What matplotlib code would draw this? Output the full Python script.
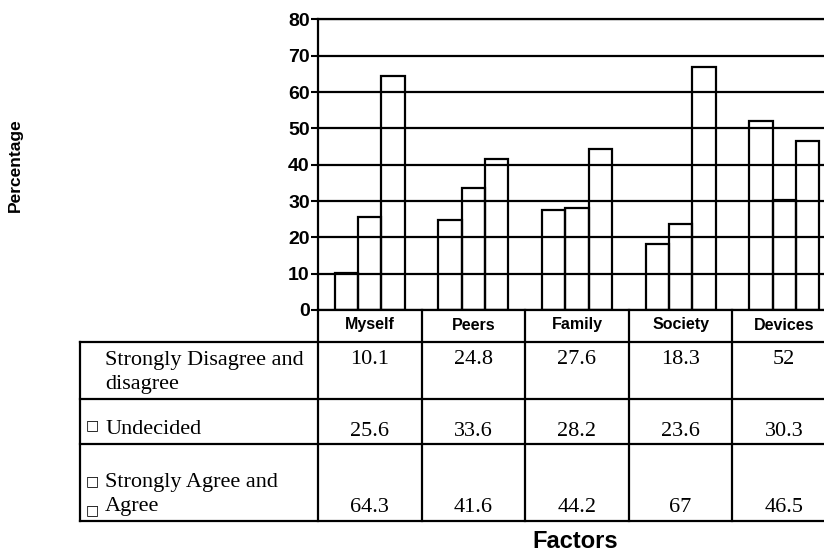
import matplotlib
matplotlib.use("Agg")
import matplotlib.pyplot as plt
from matplotlib import transforms
from matplotlib.lines import Line2D

categories = ['Myself', 'Peers', 'Family', 'Society', 'Devices']
disagree = [10.1, 24.8, 27.6, 18.3, 52]
undecided = [25.6, 33.6, 28.2, 23.6, 30.3]
agree = [64.3, 41.6, 44.2, 67, 46.5]
series = [disagree, undecided, agree]
yticks = [0, 10, 20, 30, 40, 50, 60, 70, 80]

W, H = 824, 552
fig = plt.figure(figsize=(W / 100, H / 100), dpi=100)

def fx(x):
    return x / W

def fy(y):
    return 1 - y / H

SANS = ['Liberation Sans', 'DejaVu Sans']
SERIF = ['Liberation Serif', 'DejaVu Serif']

ax = fig.add_axes([fx(318), fy(310), 518 / W, (310 - 19.4) / H])
bw = 0.225
x = list(range(len(categories)))
for k, vals in enumerate(series):
    ax.bar([i + (k - 1) * bw for i in x], vals, width=bw, facecolor='none',
           edgecolor='black', linewidth=1.6, zorder=3)

ax.set_xlim(-0.5, len(categories) - 0.5)
ax.set_ylim(0, 80)
ax.set_yticks(yticks)
ax.set_yticklabels([str(t) for t in yticks], fontsize=14, fontweight='bold', family=SANS)
ax.set_xticks([])
ax.yaxis.grid(True, color='black', linewidth=1.6, zorder=1)
ax.set_axisbelow(True)
ax.tick_params(axis='y', length=5, width=1.5, pad=1, color='black')
for s in ['left', 'bottom', 'top']:
    ax.spines[s].set_linewidth(1.6)
ax.spines['right'].set_visible(False)

# table
blend = transforms.blended_transform_factory(ax.transData, fig.transFigure)
lw = 1.6
y_head_top, y_head_bot = 310, 341.7
row_bounds = [341.7, 399, 444, 520.7]

def hline(y, x0px, x1px=830):
    fig.add_artist(Line2D([fx(x0px), fx(x1px)], [fy(y), fy(y)], color='black', lw=lw))

hline(y_head_bot, 80)
for yb in row_bounds[1:]:
    hline(yb, 80)
# vertical lines
fig.add_artist(Line2D([fx(80), fx(80)], [fy(row_bounds[0]), fy(row_bounds[-1])], color='black', lw=lw))
for b in [i - 0.5 for i in range(len(categories) + 1)]:
    fig.add_artist(Line2D([b, b], [fy(y_head_top), fy(row_bounds[-1])], transform=blend,
                          color='black', lw=lw))

for i, c in enumerate(categories):
    fig.text(i, fy(325), c, transform=blend, ha='center', va='center',
             fontsize=11.5, fontweight='bold', family=SANS)

value_y = [360, 432, 508]
for k, vals in enumerate(series):
    for i, v in enumerate(vals):
        fig.text(i, fy(value_y[k]), f"{v:g}", transform=blend, ha='center', va='center',
                 fontsize=16, family=SERIF)

fig.text(fx(105), fy(360), 'Strongly Disagree and', ha='left', va='center', fontsize=16, family=SERIF)
fig.text(fx(105), fy(385), 'disagree', ha='left', va='center', fontsize=16, family=SERIF)
fig.text(fx(105), fy(429), 'Undecided', ha='left', va='center', fontsize=16, family=SERIF)
fig.text(fx(105), fy(482), 'Strongly Agree and', ha='left', va='center', fontsize=16, family=SERIF)
fig.text(fx(105), fy(507), 'Agree', ha='left', va='center', fontsize=16, family=SERIF)
for (sx, sy) in [(92, 425), (92, 481), (92, 510)]:
    fig.text(fx(sx), fy(sy), '\u25a1', ha='center', va='center', fontsize=10, family='DejaVu Sans')

fig.text(fx(575), fy(541), 'Factors', ha='center', va='center', fontsize=17,
         fontweight='bold', family=SANS)
fig.text(fx(15), fy(165), 'Percentage', ha='center', va='center', rotation=90,
         fontsize=12.5, fontweight='bold', family=SANS)

fig.savefig('out.png', dpi=100)
